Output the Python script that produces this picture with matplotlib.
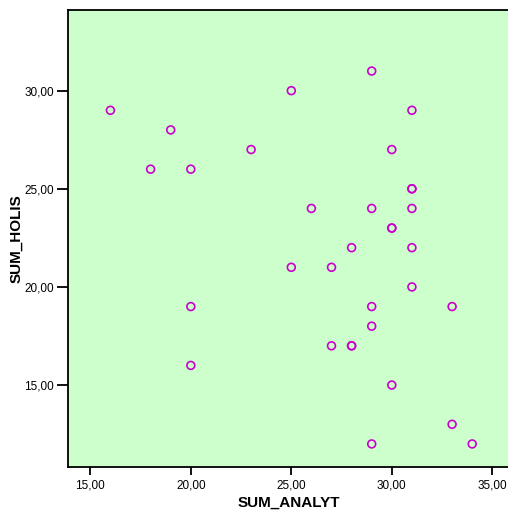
import matplotlib
matplotlib.use('Agg')
import matplotlib.pyplot as plt
from matplotlib.ticker import FuncFormatter

sum_analyt = [16, 19, 18, 20, 23, 25, 29, 31, 30, 31, 31, 26, 29, 31, 30, 30, 28,
              31, 25, 27, 31, 20, 29, 33, 29, 27, 28, 28, 20, 30, 33, 29, 34]
sum_holis = [29, 28, 26, 26, 27, 30, 31, 29, 27, 25, 25, 24, 24, 24, 23, 23, 22,
             22, 21, 21, 20, 19, 19, 19, 18, 17, 17, 17, 16, 15, 13, 12, 12]

x_ticks = [15, 20, 25, 30, 35]
y_ticks = [15, 20, 25, 30]

plt.rcParams['font.family'] = ['Liberation Sans', 'DejaVu Sans']

fig = plt.figure(figsize=(5.08, 5.11), dpi=100)
ax = fig.add_axes([68 / 508, 44.3 / 511, 442 / 508, 456.7 / 511])
ax.set_facecolor('#ccffcc')

ax.scatter(sum_analyt, sum_holis, s=32, facecolors='none', edgecolors='#cc00cc',
           linewidths=1.2, zorder=3)

ax.set_xlim(13.89, 35.88)
ax.set_ylim(10.84, 34.11)
ax.set_xticks(x_ticks)
ax.set_yticks(y_ticks)
fmt = FuncFormatter(lambda v, p: ('%.2f' % v).replace('.', ','))
ax.xaxis.set_major_formatter(fmt)
ax.yaxis.set_major_formatter(fmt)

for side in ['left', 'bottom', 'top']:
    ax.spines[side].set_linewidth(1.3)
ax.spines['right'].set_visible(False)
ax.tick_params(axis='both', direction='out', length=6, width=1.3, labelsize=8.5,
               colors='black', pad=3)
ax.tick_params(axis='y', length=8, pad=2)

ax.set_xlabel('SUM_ANALYT', fontsize=11, fontweight='bold', labelpad=3)
ax.set_ylabel('SUM_HOLIS', fontsize=11, fontweight='bold', labelpad=1)

fig.savefig('out.png', dpi=100)
